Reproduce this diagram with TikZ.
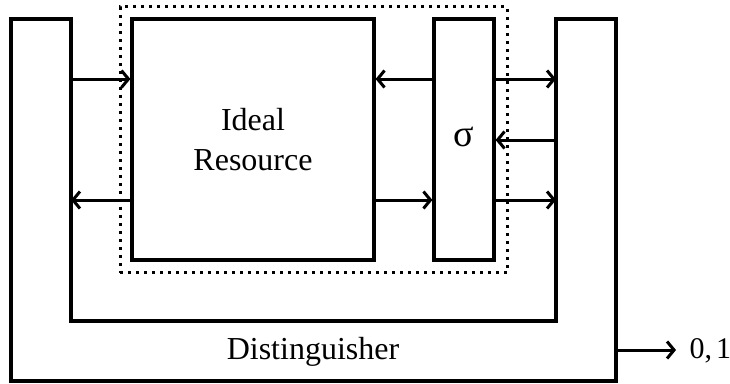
\documentclass[tikz,border=0pt]{standalone}
\usepackage{fontspec}
\setmainfont{Liberation Serif}
\usetikzlibrary{arrows.meta}
\begin{document}
\begin{tikzpicture}[x=1pt,y=-1pt,line width=3.2pt,
  box/.style={draw,rectangle,inner sep=0pt,line width=3.2pt},
  conn/.style={-{Straight Barb[length=7pt,width=17pt,line width=3pt]},line width=3pt},
  lbl/.style={font=\fontsize{32}{40}\selectfont,align=center}]
\useasboundingbox (0,0) rectangle (730,383);
% Distinguisher U shape
\coordinate (d1) at (11,19);
\coordinate (d2) at (71,19);
\coordinate (d3) at (71,321);
\coordinate (d4) at (556,321);
\coordinate (d5) at (556,19);
\coordinate (d6) at (616,19);
\coordinate (d7) at (616,381);
\coordinate (d8) at (11,381);
\draw[line join=miter] (d1) -- (d2) -- (d3) -- (d4) -- (d5) -- (d6) -- (d7) -- (d8) -- cycle;
\node[lbl,anchor=base] (dist) at (313,359) {Distinguisher};
% dotted boundary
\node[draw,line width=3pt,dash pattern=on 3pt off 5pt,inner sep=0pt,minimum width=387pt,minimum height=266pt] (dot) at (313.5,139.5) {};
% Ideal resource
\node[box,minimum width=242pt,minimum height=241pt] (ir) at (253,139.5) {};
\node[lbl] (irl) at (253,140) {Ideal\\Resource};
% sigma
\node[box,minimum width=60pt,minimum height=241pt] (sig) at (464,139.5) {};
\node[font=\fontsize{38}{42}\selectfont] (sigl) at (464,137) {σ};
% connector endpoints on distinguisher walls
\coordinate (la) at (71,79);
\coordinate (lb) at (71,200);
\coordinate (ra) at (556,79);
\coordinate (rm) at (556,140);
\coordinate (rb) at (556,200);
\draw[conn] (la) -- (la -| ir.west);
\draw[conn] (ir.west |- lb) -- (lb);
\draw[conn] (sig.west |- la) -- (ir.east |- la);
\draw[conn] (ir.east |- lb) -- (sig.west |- lb);
\draw[conn] (sig.east |- ra) -- (ra);
\draw[conn] (rm) -- (sig.east |- rm);
\draw[conn] (sig.east |- rb) -- (rb);
% output
\coordinate (o) at (616,350);
\coordinate (oe) at (676,350);
\node[font=\fontsize{30}{34}\selectfont,anchor=base west,inner sep=0pt] (out) at (688,358) {0,\kern4pt1};
\draw[conn] (o) -- (oe);
\end{tikzpicture}
\end{document}
